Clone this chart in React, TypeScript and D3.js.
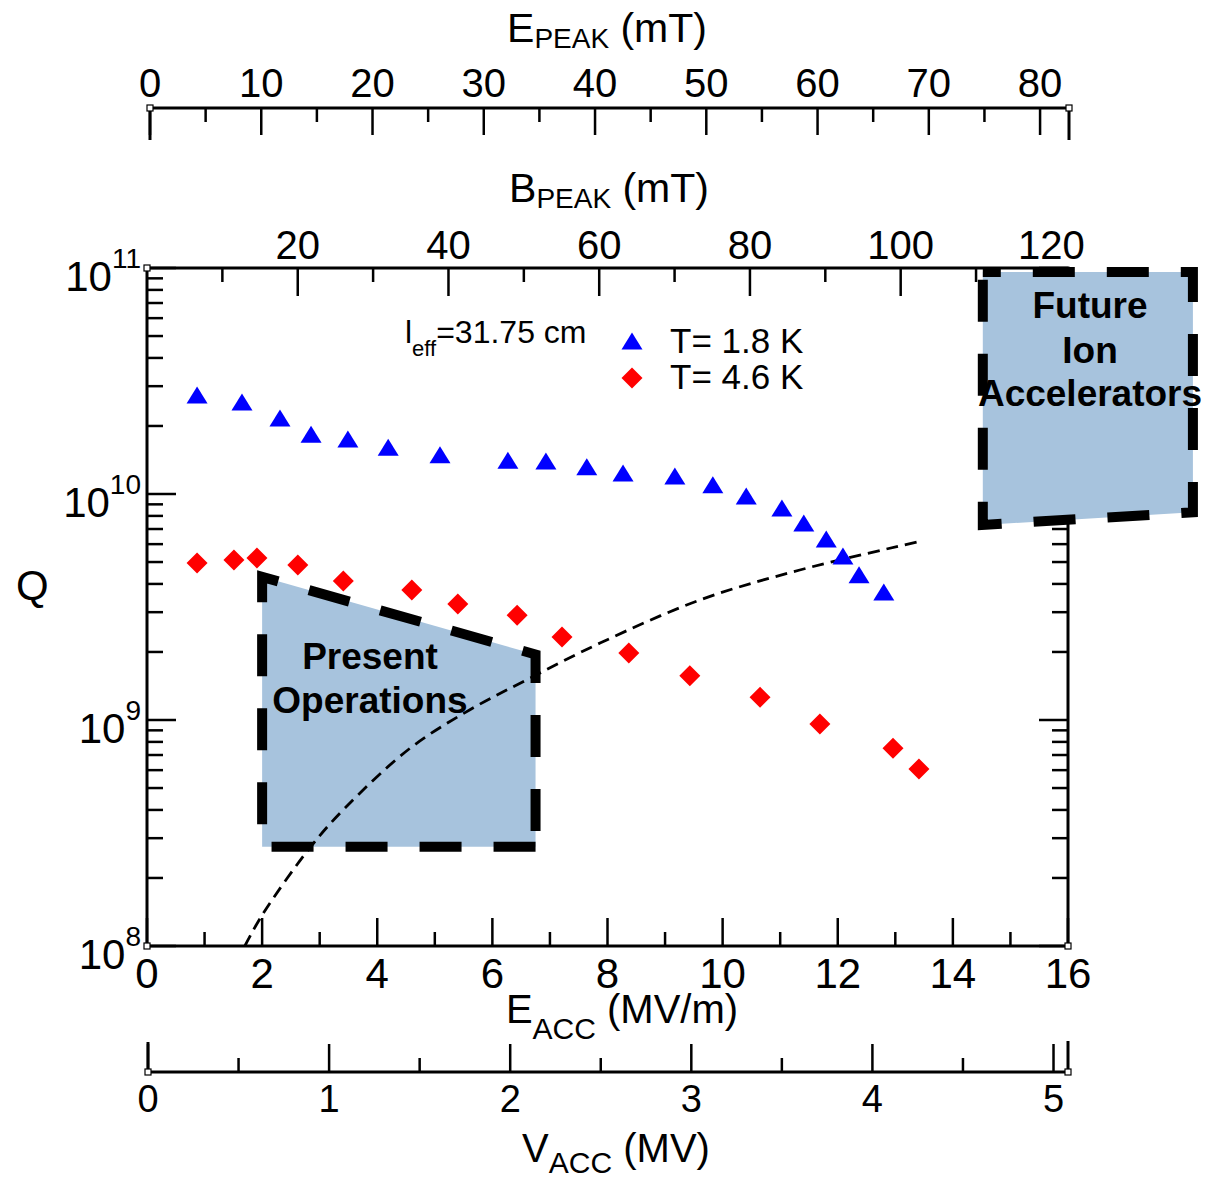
import React from "react";
import * as d3 from "d3";

// ---- data ----
const EACC_18K = [0.87, 1.65, 2.31, 2.85, 3.49, 4.19, 5.09, 6.27, 6.93, 7.64, 8.27, 9.17, 9.83, 10.41, 11.03, 11.41, 11.8, 12.09, 12.37, 12.8];
const Q_18K = [2.74e10, 2.55e10, 2.17e10, 1.84e10, 1.75e10, 1.61e10, 1.49e10, 1.41e10, 1.4e10, 1.32e10, 1.24e10, 1.2e10, 1.1e10, 9.8e9, 8.67e9, 7.44e9, 6.32e9, 5.32e9, 4.39e9, 3.68e9];
const EACC_46K = [0.87, 1.51, 1.91, 2.62, 3.41, 4.6, 5.4, 6.43, 7.21, 8.37, 9.43, 10.65, 11.69, 12.96, 13.41];
const Q_46K = [4.95e9, 5.11e9, 5.21e9, 4.85e9, 4.12e9, 3.76e9, 3.26e9, 2.91e9, 2.33e9, 1.98e9, 1.57e9, 1.26e9, 9.6e8, 7.5e8, 6.07e8];
const CURVE_EACC = [1.7, 2.0, 2.83, 3.44, 4.57, 5.61, 6.65, 7.87, 9.61, 11.34, 13.39];
const CURVE_Q = [1e8, 1.37e8, 2.72e8, 4.08e8, 7.5e8, 1.11e9, 1.53e9, 2.19e9, 3.4e9, 4.61e9, 6.14e9];
const PRESENT_EACC = [6.75, 2.0, 2.0, 6.75];
const PRESENT_Q = [2.75e8, 2.75e8, 4.3e9, 1.95e9];
const FUTURE_EACC = [14.52, 18.17, 18.17, 14.52];
const FUTURE_Q = [9.6e10, 9.6e10, 8.3e9, 7.3e9];

const EACC_TICKS = [0, 2, 4, 6, 8, 10, 12, 14, 16];
const BPEAK_TICKS = [20, 40, 60, 80, 100, 120];
const EPEAK_TICKS = [0, 10, 20, 30, 40, 50, 60, 70, 80];
const VACC_TICKS = [0, 1, 2, 3, 4, 5];
const Q_DECADES = [8, 9, 10, 11];

const EACC_MAX = 16;
const BPEAK_MAX = 122.2;
const EPEAK_MAX = 82.6;
const VACC_MAX = 5.08;

const FONT = "'Liberation Sans', Arial, Helvetica, sans-serif";

export default function App() {
  const L = 147, R = 1068, T = 268, B = 946;
  const x = d3.scaleLinear().domain([0, EACC_MAX]).range([L, R]);
  const y = d3.scaleLog().domain([1e8, 1e11]).range([B, T]);
  const xb = d3.scaleLinear().domain([0, BPEAK_MAX]).range([L, R]);
  const xe = d3.scaleLinear().domain([0, EPEAK_MAX]).range([150, 1069]);
  const xv = d3.scaleLinear().domain([0, VACC_MAX]).range([148, 1068]);
  const EPY = 108;
  const VY = 1072;

  const major = 28, minor = 14;
  const axisW = 3, tickW = 2.5;

  const yMinor: number[] = [];
  Q_DECADES.slice(0, 3).forEach((d) => {
    for (let k = 2; k <= 9; k++) yMinor.push(k * Math.pow(10, d));
  });

  const eaccMinor = d3.range(1, EACC_MAX, 2);
  const bMinor = d3.range(10, BPEAK_MAX, 20);
  const eMinor = d3.range(5, EPEAK_MAX, 10);
  const vMinor = d3.range(0.5, VACC_MAX, 1);

  const curveLine = d3
    .line<number>()
    .x((_, i) => x(CURVE_EACC[i]))
    .y((_, i) => y(CURVE_Q[i]))
    .curve(d3.curveCatmullRom);

  const polyLine = (ex: number[], qs: number[]) =>
    d3
      .line<number>()
      .x((_, i) => x(ex[i]))
      .y((_, i) => y(qs[i]))
      .curve(d3.curveLinearClosed)(ex);

  const tri = "M0,-8.5L10.5,8.5L-10.5,8.5Z";
  const dia = "M0,-10.5L10.5,0L0,10.5L-10.5,0Z";

  const sq = (cx: number, cy: number, k: string) => (
    <rect key={k} x={cx - 3} y={cy - 3} width={6} height={6} fill="#fff" stroke="#000" strokeWidth={1.2} />
  );

  return (
    <svg
      width={1206}
      height={1178}
      style={{ position: "absolute", left: 0, top: 0, background: "#fff" }}
      fontFamily={FONT}
    >
      <rect x={0} y={0} width={1206} height={1178} fill="#fff" />

      {/* Present operations region */}
      <path
        d={polyLine(PRESENT_EACC, PRESENT_Q) || ""}
        fill="#a7c3dd"
        stroke="#000"
        strokeWidth={10}
        strokeDasharray="42 32"
        strokeDashoffset={0}
        strokeLinejoin="miter"
      />

      {/* dashed model curve */}
      <path d={curveLine(CURVE_EACC) || ""} fill="none" stroke="#000" strokeWidth={2.8} strokeDasharray="12 7" />

      {/* frame */}
      <rect x={L} y={T} width={R - L} height={B - T} fill="none" stroke="#000" strokeWidth={axisW} />

      {/* bottom ticks (Eacc) */}
      {EACC_TICKS.map((v) => (
        <line key={"eb" + v} x1={x(v)} x2={x(v)} y1={B} y2={B - major} stroke="#000" strokeWidth={tickW} />
      ))}
      {eaccMinor.map((v) => (
        <line key={"ebm" + v} x1={x(v)} x2={x(v)} y1={B} y2={B - minor} stroke="#000" strokeWidth={tickW} />
      ))}
      {/* top ticks (Bpeak) */}
      {BPEAK_TICKS.map((v) => (
        <line key={"bt" + v} x1={xb(v)} x2={xb(v)} y1={T} y2={T + major} stroke="#000" strokeWidth={tickW} />
      ))}
      {bMinor.map((v) => (
        <line key={"btm" + v} x1={xb(v)} x2={xb(v)} y1={T} y2={T + minor} stroke="#000" strokeWidth={tickW} />
      ))}
      {/* left/right ticks */}
      {Q_DECADES.map((d) => {
        const yy = y(Math.pow(10, d));
        return (
          <g key={"qd" + d}>
            <line x1={L} x2={L + major + 1} y1={yy} y2={yy} stroke="#000" strokeWidth={tickW} />
            <line x1={R} x2={R - major - 1} y1={yy} y2={yy} stroke="#000" strokeWidth={tickW} />
          </g>
        );
      })}
      {yMinor.map((v) => {
        const yy = y(v);
        return (
          <g key={"qm" + v}>
            <line x1={L} x2={L + 16} y1={yy} y2={yy} stroke="#000" strokeWidth={tickW} />
            <line x1={R} x2={R - 16} y1={yy} y2={yy} stroke="#000" strokeWidth={tickW} />
          </g>
        );
      })}

      {/* Future ion accelerators region */}
      <path
        d={polyLine(FUTURE_EACC, FUTURE_Q) || ""}
        fill="#a7c3dd"
        stroke="#000"
        strokeWidth={10}
        strokeDasharray="42 32"
        strokeDashoffset={24}
        strokeLinejoin="miter"
      />

      {/* data */}
      {EACC_18K.map((v, i) => (
        <path key={"t" + i} d={tri} transform={`translate(${x(v)},${y(Q_18K[i])})`} fill="#0000ff" />
      ))}
      {EACC_46K.map((v, i) => (
        <path key={"d" + i} d={dia} transform={`translate(${x(v)},${y(Q_46K[i])})`} fill="#ff0000" />
      ))}

      {/* E_PEAK axis */}
      <line x1={xe(0)} x2={xe(EPEAK_MAX)} y1={EPY} y2={EPY} stroke="#000" strokeWidth={axisW} />
      {EPEAK_TICKS.map((v) => (
        <line key={"ep" + v} x1={xe(v)} x2={xe(v)} y1={EPY} y2={EPY + 27} stroke="#000" strokeWidth={tickW} />
      ))}
      {eMinor.map((v) => (
        <line key={"epm" + v} x1={xe(v)} x2={xe(v)} y1={EPY} y2={EPY + 14} stroke="#000" strokeWidth={tickW} />
      ))}
      <line x1={xe(0)} x2={xe(0)} y1={EPY} y2={EPY + 32} stroke="#000" strokeWidth={axisW} />
      <line x1={xe(EPEAK_MAX)} x2={xe(EPEAK_MAX)} y1={EPY} y2={EPY + 32} stroke="#000" strokeWidth={axisW} />

      {/* V_ACC axis */}
      <line x1={xv(0)} x2={xv(VACC_MAX)} y1={VY} y2={VY} stroke="#000" strokeWidth={axisW} />
      {VACC_TICKS.map((v) => (
        <line key={"va" + v} x1={xv(v)} x2={xv(v)} y1={VY} y2={VY - 28} stroke="#000" strokeWidth={tickW} />
      ))}
      {vMinor.map((v) => (
        <line key={"vam" + v} x1={xv(v)} x2={xv(v)} y1={VY} y2={VY - 14} stroke="#000" strokeWidth={tickW} />
      ))}
      <line x1={xv(0)} x2={xv(0)} y1={VY} y2={VY - 30} stroke="#000" strokeWidth={axisW} />
      <line x1={xv(VACC_MAX)} x2={xv(VACC_MAX)} y1={VY} y2={VY - 31} stroke="#000" strokeWidth={axisW} />

      {/* corner squares */}
      {sq(L, T, "s1")}
      {sq(L, B, "s2")}
      {sq(R, B, "s3")}
      {sq(xe(0), EPY, "s4")}
      {sq(xe(EPEAK_MAX), EPY, "s5")}
      {sq(xv(0), VY, "s6")}
      {sq(xv(VACC_MAX), VY, "s7")}

      {/* tick labels */}
      {EPEAK_TICKS.map((v) => (
        <text key={"ept" + v} x={xe(v)} y={97} fontSize={40} textAnchor="middle">
          {v}
        </text>
      ))}
      {BPEAK_TICKS.map((v) => (
        <text key={"bpt" + v} x={xb(v)} y={259} fontSize={40} textAnchor="middle">
          {v}
        </text>
      ))}
      {EACC_TICKS.map((v) => (
        <text key={"eat" + v} x={x(v)} y={988} fontSize={42} textAnchor="middle">
          {v}
        </text>
      ))}
      {VACC_TICKS.map((v) => (
        <text key={"vat" + v} x={xv(v)} y={1112} fontSize={38} textAnchor="middle">
          {v}
        </text>
      ))}
      {Q_DECADES.map((d) => {
        const yy = y(Math.pow(10, d));
        return (
          <text key={"ql" + d} x={141} y={yy + 23} fontSize={42} textAnchor="end">
            10
            <tspan fontSize={28} dy={-23}>
              {d}
            </tspan>
          </text>
        );
      })}

      {/* axis titles */}
      <text x={607} y={42} fontSize={41} textAnchor="middle">
        E<tspan fontSize={28} dy={6}>PEAK</tspan>
        <tspan dy={-6}> (mT)</tspan>
      </text>
      <text x={609} y={202} fontSize={41} textAnchor="middle">
        B<tspan fontSize={28} dy={6}>PEAK</tspan>
        <tspan dy={-6}> (mT)</tspan>
      </text>
      <text x={622} y={1023} fontSize={40} textAnchor="middle">
        E<tspan fontSize={30} dy={16}>ACC</tspan>
        <tspan dy={-16}> (MV/m)</tspan>
      </text>
      <text x={616} y={1162} fontSize={40} textAnchor="middle">
        V<tspan fontSize={30} dy={11}>ACC</tspan>
        <tspan dy={-11}> (MV)</tspan>
      </text>
      <text x={16} y={600} fontSize={42}>
        Q
      </text>

      {/* legend */}
      <text x={405} y={343} fontSize={32}>
        l<tspan fontSize={22} dy={13}>eff</tspan>
        <tspan dy={-13}>=31.75 cm</tspan>
      </text>
      <path d={tri} transform="translate(632,341)" fill="#0000ff" />
      <text x={670} y={353} fontSize={35}>
        T= 1.8 K
      </text>
      <path d={dia} transform="translate(632,378)" fill="#ff0000" />
      <text x={670} y={389} fontSize={35}>
        T= 4.6 K
      </text>

      {/* region labels */}
      <g fontWeight="bold" fontSize={37} textAnchor="middle">
        <text x={370} y={669}>Present</text>
        <text x={370} y={713}>Operations</text>
        <text x={1090} y={318}>Future</text>
        <text x={1090} y={363}>Ion</text>
        <text x={1090} y={406}>Accelerators</text>
      </g>
    </svg>
  );
}
